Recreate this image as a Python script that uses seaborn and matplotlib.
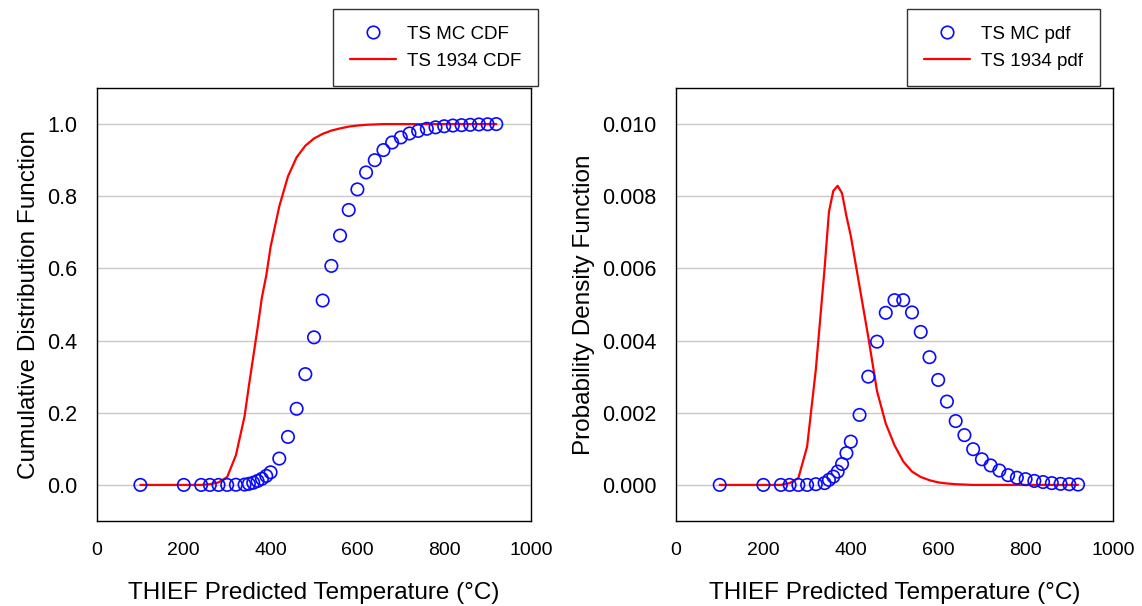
import numpy as np
import pandas as pd
import matplotlib
matplotlib.use("Agg")
import matplotlib.pyplot as plt
from matplotlib.lines import Line2D
import seaborn as sns

# ---- data ----
temps = [100, 200, 240, 260, 280, 300, 320, 340, 350, 360, 370, 380, 390, 400,
         420, 440, 460, 480, 500, 520, 540, 560, 580, 600, 620, 640, 660, 680,
         700, 720, 740, 760, 780, 800, 820, 840, 860, 880, 900, 920]

mc_cdf = [0, 0, 0, 0, 0, 0, 0.0005, 0.001, 0.003, 0.006, 0.011, 0.017, 0.025, 0.035,
          0.073, 0.133, 0.211, 0.307, 0.409, 0.511, 0.607, 0.691, 0.762, 0.819,
          0.866, 0.900, 0.928, 0.949, 0.963, 0.974, 0.981, 0.987, 0.991, 0.994,
          0.996, 0.997, 0.998, 0.999, 0.9995, 1.0]

ts1934_cdf = [0, 0, 0, 0.002, 0.007, 0.022, 0.082, 0.19, 0.275, 0.355, 0.435, 0.52,
              0.58, 0.66, 0.772, 0.855, 0.908, 0.94, 0.96, 0.973, 0.982, 0.988,
              0.993, 0.996, 0.998, 0.999, 1.0, 1.0, 1.0, 1.0, 1.0, 1.0, 1.0, 1.0,
              1.0, 1.0, 1.0, 1.0, 1.0, 1.0]

mc_pdf = [0, 0, 0, 0, 0, 0, 0.00002, 0.00005, 0.00014, 0.00023, 0.00037, 0.00058,
          0.00088, 0.0012, 0.00194, 0.0030, 0.00397, 0.00477, 0.00512, 0.00512,
          0.00478, 0.00424, 0.00354, 0.00291, 0.00231, 0.00177, 0.00138, 0.00099,
          0.00071, 0.00054, 0.0004, 0.00027, 0.0002, 0.00016, 0.00011, 0.00008,
          0.00005, 0.00003, 0.00002, 0.00001]

ts1934_pdf = [0, 0, 0, 0.00005, 0.00019, 0.00106, 0.0032, 0.006, 0.00757, 0.00815,
              0.00829, 0.00808, 0.00745, 0.0069, 0.0055, 0.0041, 0.0026, 0.0017,
              0.0011, 0.00065, 0.00037, 0.00022, 0.00013, 0.00007, 0.00004,
              0.00002, 0.00001, 0, 0, 0, 0, 0, 0, 0, 0, 0, 0, 0, 0, 0]

xticks = [0, 200, 400, 600, 800, 1000]
cdf_ticks = [0.0, 0.2, 0.4, 0.6, 0.8, 1.0]
pdf_ticks = [0.000, 0.002, 0.004, 0.006, 0.008, 0.010]

xlabel = "THIEF Predicted Temperature (°C)"

sns.set_style("white")
plt.rcParams['font.family'] = ['Liberation Sans', 'DejaVu Sans']

fig = plt.figure(figsize=(11.42, 6.06), dpi=100)
ax1 = fig.add_axes([97/1142, 1-521/606, (531-97)/1142, (521-88)/606])
ax2 = fig.add_axes([676/1142, 1-521/606, (1113-676)/1142, (521-88)/606])

df = pd.DataFrame({"T": temps, "mc_cdf": mc_cdf, "ts_cdf": ts1934_cdf,
                   "mc_pdf": mc_pdf, "ts_pdf": ts1934_pdf})

blue = "#0a0aff"
red = "#ff0000"

def draw(ax, ycol_mc, ycol_ts, ylim, yticks, fmt, ylabel, labels, leg_box):
    for y in yticks:
        ax.axhline(y, color="#c8c8c8", lw=1.0, zorder=0)
    sns.lineplot(data=df, x="T", y=ycol_ts, ax=ax, color=red, lw=1.6, zorder=2)
    sns.scatterplot(data=df, x="T", y=ycol_mc, ax=ax, marker="o", s=80,
                    facecolor="none", edgecolor=blue, linewidth=1.2, zorder=3)
    ax.set_xlim(0, 1000)
    ax.set_ylim(*ylim)
    ax.set_xticks(xticks)
    ax.set_yticks(yticks)
    ax.set_yticklabels([fmt.format(v) for v in yticks])
    ax.tick_params(axis="both", direction="out", length=6, width=1,
                   color="black", labelcolor="black")
    ax.tick_params(axis="x", pad=9, labelsize=14)
    ax.tick_params(axis="y", pad=8, labelsize=15.5)
    ax.set_xlabel(xlabel, fontsize=17.5, labelpad=17, color="black")
    ax.set_ylabel(ylabel, fontsize=17.5, labelpad=5, color="black")
    for s in ax.spines.values():
        s.set_color("black")
        s.set_linewidth(1.0)
    handles = [Line2D([], [], marker="o", ls="none", markerfacecolor="none",
                      markeredgecolor=blue, markersize=9, markeredgewidth=1.2),
               Line2D([], [], color=red, lw=1.6)]
    leg = fig.legend(handles, labels, loc="upper right", bbox_to_anchor=leg_box,
                     bbox_transform=fig.transFigure, fontsize=13.5, frameon=True,
                     fancybox=False, edgecolor="black", borderpad=0.9,
                     labelspacing=0.5, handlelength=2.45, handletextpad=0.6,
                     borderaxespad=0, numpoints=1, labelcolor="black")
    leg.get_frame().set_linewidth(1.0)

draw(ax1, "mc_cdf", "ts_cdf", (-0.1, 1.1), cdf_ticks, "{:.1f}",
     "Cumulative Distribution Function", ["TS MC CDF", "TS 1934 CDF"],
     (538/1142, 1-9/606))
draw(ax2, "mc_pdf", "ts_pdf", (-0.001, 0.011), pdf_ticks, "{:.3f}",
     "Probability Density Function", ["TS MC pdf", "TS 1934 pdf"],
     (1100/1142, 1-9/606))

fig.savefig("out.png", dpi=100)
